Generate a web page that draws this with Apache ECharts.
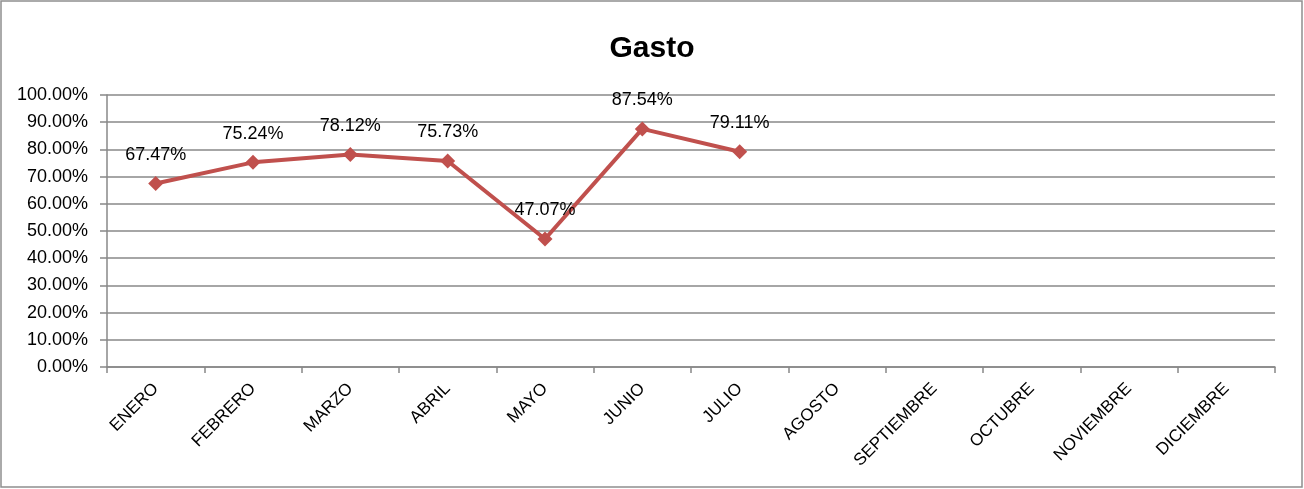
<!DOCTYPE html>
<html>
<head>
<meta charset="utf-8">
<script src="https://cdn.jsdelivr.net/npm/echarts@6/dist/echarts.min.js"></script>
<style>html,body{margin:0;padding:0;background:#fff}#c{width:1304px;height:489px}</style>
</head>
<body>
<div id="c"></div>
<script>
var categories = ['ENERO','FEBRERO','MARZO','ABRIL','MAYO','JUNIO','JULIO','AGOSTO','SEPTIEMBRE','OCTUBRE','NOVIEMBRE','DICIEMBRE'];
var gasto = [67.47, 75.24, 78.12, 75.73, 47.07, 87.54, 79.11, null, null, null, null, null];
var titleText = 'Gasto';

var chart = echarts.init(document.getElementById('c'));
var font = 'Liberation Sans, Arial, sans-serif';
chart.setOption({
  animation: false,
  backgroundColor: '#fff',
  title: {
    text: titleText, left: 'center', top: 29,
    textStyle: {fontFamily: font, fontSize: 30, fontWeight: 'bold', color: '#000'}
  },
  graphic: [{
    type: 'rect', shape: {x: 1, y: 1, width: 1301, height: 486},
    style: {fill: 'none', stroke: '#8f8f8f', lineWidth: 1.5}, silent: true
  }],
  grid: {left: 107, right: 29, top: 95, bottom: 122, containLabel: false},
  xAxis: {
    type: 'category', data: categories, boundaryGap: true,
    axisLine: {lineStyle: {color: '#888888', width: 1.5}},
    axisTick: {show: true, length: 6, alignWithLabel: false, lineStyle: {color: '#888888', width: 1.5}},
    axisLabel: {rotate: 45, interval: 0, margin: 19, fontFamily: font, fontSize: 17, color: '#000'}
  },
  yAxis: {
    type: 'value', min: 0, max: 100, interval: 10,
    axisLine: {show: true, lineStyle: {color: '#888888', width: 1.5}},
    axisTick: {show: true, length: 7, lineStyle: {color: '#888888', width: 1.5}},
    splitLine: {show: true, lineStyle: {color: '#888888', width: 1.5}},
    axisLabel: {margin: 19, fontFamily: font, fontSize: 18, color: '#000',
      formatter: function(v){ return v.toFixed(2) + '%'; }}
  },
  series: [{
    type: 'line', data: gasto, connectNulls: false,
    lineStyle: {color: '#C0504D', width: 4},
    itemStyle: {color: '#C0504D'},
    symbol: 'diamond', symbolSize: 15,
    label: {show: true, position: 'top', distance: 12, fontFamily: font, fontSize: 18, color: '#000',
      formatter: function(p){ return p.value.toFixed(2) + '%'; }}
  }]
});
</script>
</body>
</html>
